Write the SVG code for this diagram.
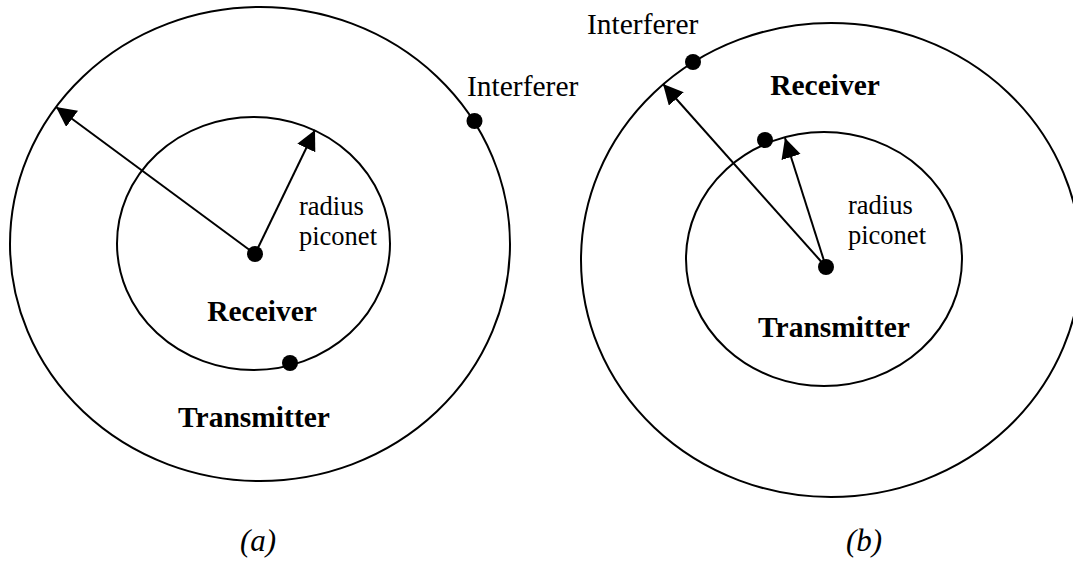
<svg xmlns="http://www.w3.org/2000/svg" width="1073" height="561" viewBox="0 0 1073 561">
  <defs>
    <style>
      .ring { fill: none; stroke: #000; stroke-width: 2; }
      .dot { fill: #000; }
      .arrow { stroke: #000; stroke-width: 2; fill: none; marker-end: url(#head); }
      .lbl { font-family: "Liberation Serif", "Times New Roman", serif; font-size: 29.5px; fill: #000; }
      .small { font-size: 26.5px; }
      .bold { font-weight: bold; }
      .cap { font-style: italic; font-size: 31px; }
    </style>
    <marker id="head" markerUnits="userSpaceOnUse" markerWidth="22" markerHeight="22" refX="20" refY="10" orient="auto">
      <path d="M0,0 L20,10 L0,20 Z" fill="#000"/>
    </marker>
  </defs>
  <rect width="1073" height="561" fill="#fff"/>

  <!-- Diagram (a) -->
  <g id="a-outer-ring"><ellipse class="ring" cx="260" cy="244" rx="250" ry="237"/></g>
  <g id="a-inner-ring"><ellipse class="ring" cx="253.5" cy="243.5" rx="136.5" ry="126.5"/></g>

  <!-- Diagram (b) -->
  <g id="b-outer-ring"><ellipse class="ring" cx="831" cy="260" rx="250" ry="237"/></g>
  <g id="b-inner-ring"><ellipse class="ring" cx="824" cy="259" rx="138" ry="127"/></g>

  <g id="connectors">
    <line class="arrow" x1="255" y1="254" x2="56" y2="107"/>
    <line class="arrow" x1="255" y1="254" x2="315" y2="130"/>
    <line class="arrow" x1="826" y1="267" x2="663" y2="84"/>
    <line class="arrow" x1="826" y1="267" x2="785" y2="138"/>
  </g>

  <g id="a-center-node"><circle class="dot" cx="255" cy="254" r="8"/></g>
  <g id="a-interferer-node">
    <circle class="dot" cx="474.5" cy="121" r="8"/>
    <text class="lbl" x="467" y="96">Interferer</text>
  </g>
  <g id="a-receiver-node">
    <circle class="dot" cx="290" cy="363" r="8"/>
    <text class="lbl bold" x="262" y="321" text-anchor="middle">Receiver</text>
  </g>
  <g id="a-transmitter-label"><text class="lbl bold" x="254" y="427" text-anchor="middle">Transmitter</text></g>
  <g id="a-radius-label">
    <text class="lbl small" x="299" y="215">radius</text>
    <text class="lbl small" x="299" y="245">piconet</text>
  </g>
  <g id="a-caption"><text class="lbl cap" x="258" y="551" text-anchor="middle">(a)</text></g>

  <g id="b-center-node"><circle class="dot" cx="826" cy="267" r="8"/></g>
  <g id="b-interferer-node">
    <circle class="dot" cx="693" cy="62" r="8"/>
    <text class="lbl" x="587" y="34">Interferer</text>
  </g>
  <g id="b-receiver-node">
    <circle class="dot" cx="765" cy="140" r="8"/>
    <text class="lbl bold" x="825" y="95" text-anchor="middle">Receiver</text>
  </g>
  <g id="b-transmitter-label"><text class="lbl bold" x="834" y="337" text-anchor="middle">Transmitter</text></g>
  <g id="b-radius-label">
    <text class="lbl small" x="848" y="214">radius</text>
    <text class="lbl small" x="848" y="244">piconet</text>
  </g>
  <g id="b-caption"><text class="lbl cap" x="864" y="551" text-anchor="middle">(b)</text></g>
</svg>
